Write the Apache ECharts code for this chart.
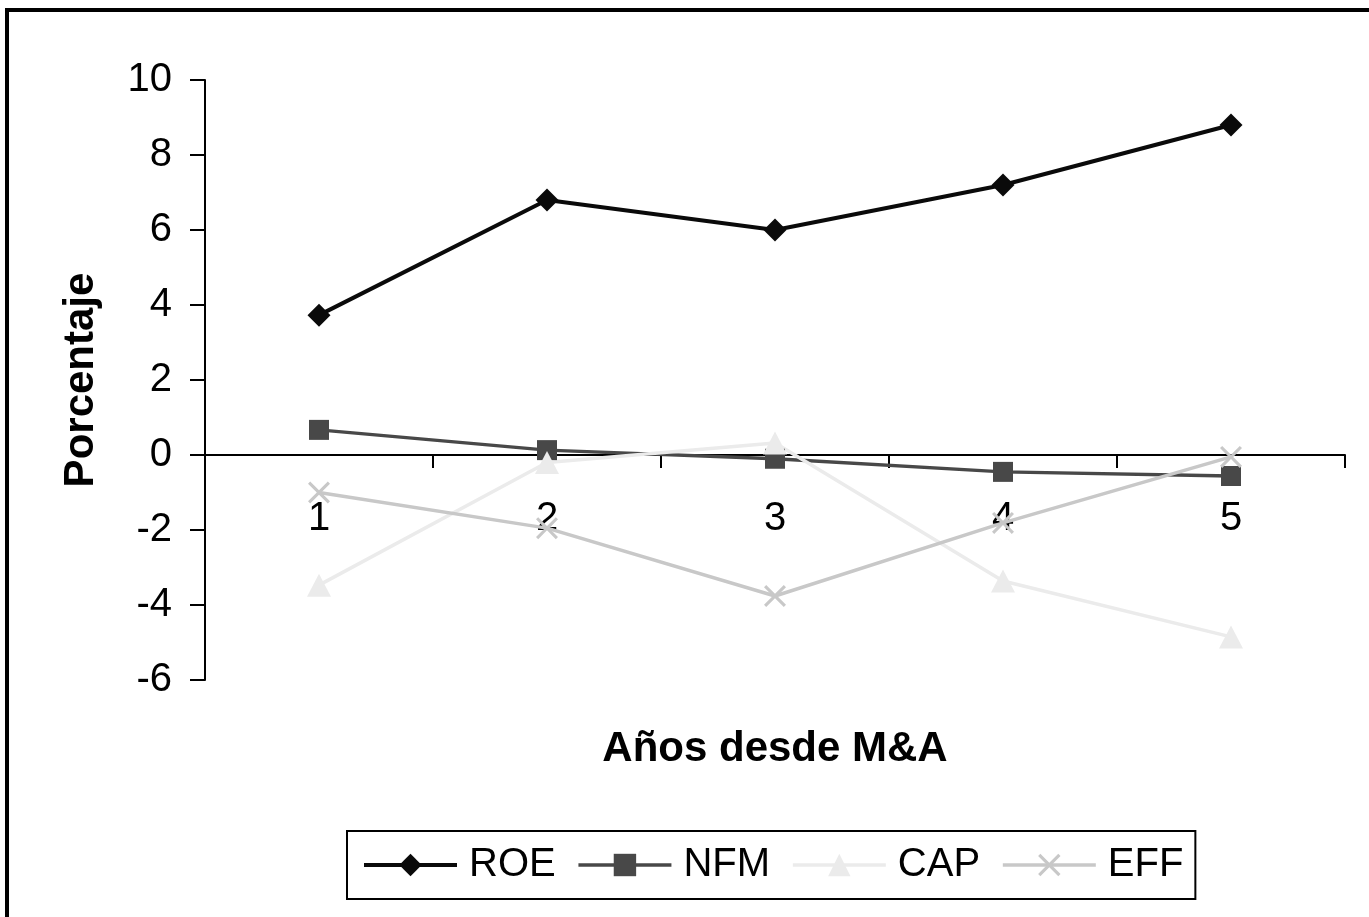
<!DOCTYPE html>
<html>
<head>
<meta charset="utf-8">
<title>Porcentaje - Años desde M&A</title>
<script src="https://cdn.jsdelivr.net/npm/echarts@6/dist/echarts.min.js"></script>
<style>
  html, body { margin: 0; padding: 0; background: #fff; }
  #chart { width: 1369px; height: 917px; }
</style>
</head>
<body>
<div id="chart"></div>
<script>
// años desde la fusión
const years = ['1', '2', '3', '4', '5']
// series (porcentaje)
const roe = [3.73, 6.8, 6.0, 7.2, 8.8]
const nfm = [0.67, 0.13, -0.1, -0.45, -0.56]
const cap = [-3.47, -0.2, 0.32, -3.36, -4.85]
const eff = [-1.0, -1.95, -3.76, -1.81, -0.05]

const yMin = -6
const yMax = 10

const font = '"Liberation Sans", Arial, sans-serif'
// cruz rellena (para que tenga grosor)
const crossPath = 'path://M0,2L2,0L10,8L18,0L20,2L12,10L20,18L18,20L10,12L2,20L0,18L8,10Z'

const gridTop = 80
const gridBottom = 237
const gridHeight = 917 - gridTop - gridBottom
// el eje x va en el cero, desplazado desde el borde inferior del grid
const xOffset = -gridHeight * (0 - yMin) / (yMax - yMin)

const chart = echarts.init(document.getElementById('chart'), null, { renderer: 'canvas' })

function line(name, data, color, symbol, size, width) {
  return {
    name: name,
    type: 'line',
    data: data,
    symbol: symbol,
    symbolSize: size,
    showSymbol: true,
    animation: false,
    lineStyle: { color: color, width: width },
    itemStyle: { color: color },
    emphasis: { disabled: true }
  }
}

chart.setOption({
  backgroundColor: '#fff',
  animation: false,
  graphic: [{
    type: 'rect',
    shape: { x: 7, y: 10, width: 1400, height: 950 },
    style: { fill: 'none', stroke: '#000', lineWidth: 4 },
    silent: true
  }],
  grid: { left: 205, right: 24, top: gridTop, bottom: gridBottom, containLabel: false, outerBoundsMode: 'none' },
  legend: {
    left: 347,
    top: 831,
    orient: 'horizontal',
    data: ['ROE', 'NFM', 'CAP', 'EFF'],
    itemWidth: 93,
    itemHeight: 28,
    itemGap: 21,
    padding: [14, 12, 14, 15],
    borderColor: '#000',
    borderWidth: 2,
    lineStyle: { width: 'inherit' },
    textStyle: { fontFamily: font, fontSize: 40, color: '#000', padding: [0, 0, 0, 7] }
  },
  xAxis: {
    type: 'category',
    data: years,
    boundaryGap: true,
    position: 'bottom',
    offset: xOffset,
    name: 'Años desde M&A',
    nameLocation: 'middle',
    nameGap: 273,
    nameTextStyle: { fontFamily: font, fontSize: 42, fontWeight: 'bold', color: '#000' },
    axisLine: { onZero: false, lineStyle: { color: '#000', width: 2 } },
    axisTick: { show: true, length: 13, alignWithLabel: false, lineStyle: { color: '#000', width: 2 } },
    axisLabel: { fontFamily: font, fontSize: 40, color: '#000', margin: 44 },
    splitLine: { show: false }
  },
  yAxis: {
    type: 'value',
    min: yMin,
    max: yMax,
    interval: 2,
    name: 'Porcentaje',
    nameLocation: 'middle',
    nameGap: 103,
    nameTextStyle: { fontFamily: font, fontSize: 42, fontWeight: 'bold', color: '#000' },
    axisLine: { show: true, lineStyle: { color: '#000', width: 2 } },
    axisTick: { show: true, length: 15, lineStyle: { color: '#000', width: 2 } },
    axisLabel: { fontFamily: font, fontSize: 40, color: '#000', margin: 33 },
    splitLine: { show: false }
  },
  series: [
    line('ROE', roe, '#0a0a0a', 'diamond', 23, 4),
    line('NFM', nfm, '#484848', 'rect', 20, 3.5),
    line('CAP', cap, '#ebebeb', 'triangle', [24, 23], 3.5),
    line('EFF', eff, '#c8c8c8', crossPath, 22, 3.5)
  ]
})
</script>
</body>
</html>
